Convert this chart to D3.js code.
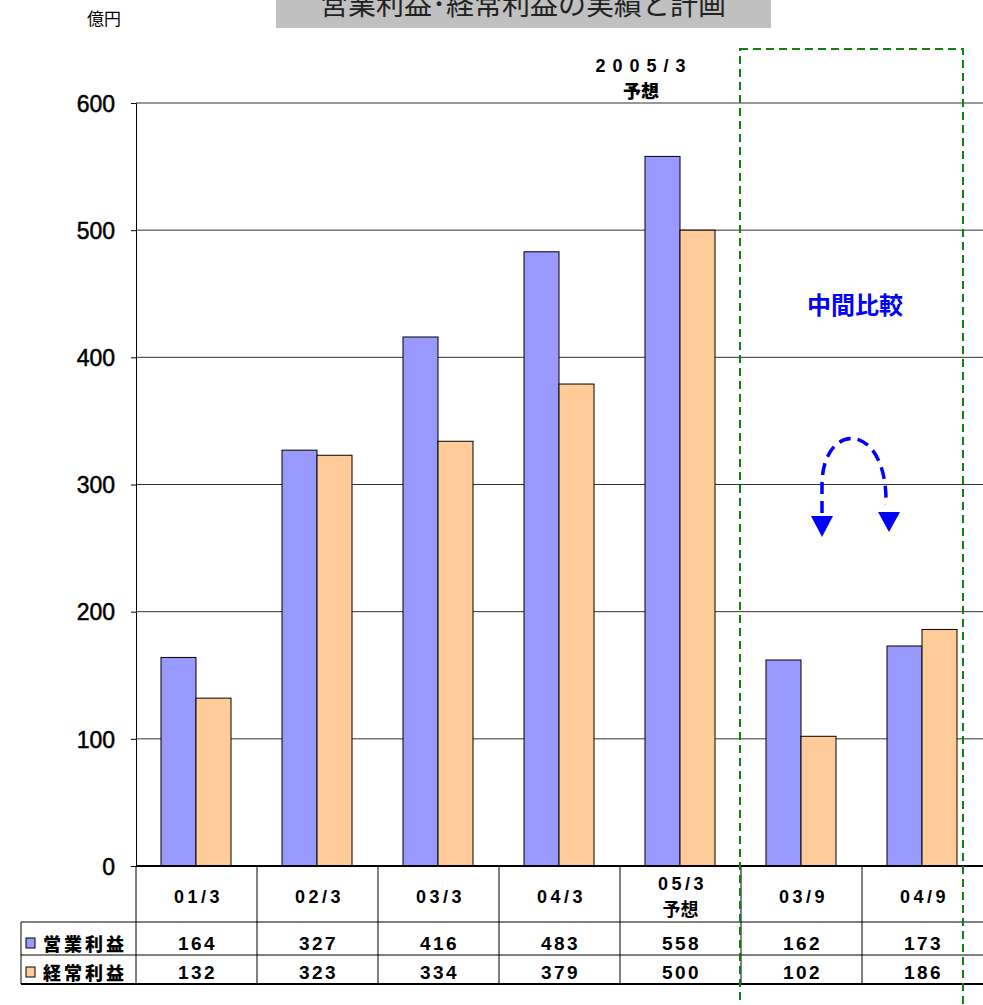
<!DOCTYPE html>
<html>
<head>
<meta charset="utf-8">
<script src="https://cdn.jsdelivr.net/npm/d3@7"></script>
<style>
  body { margin: 0; background: #fff; }
  svg { display: block; }
  .jp { font-family: "Noto Sans CJK JP", "Noto Sans", sans-serif; }
  .num { font-family: "Liberation Sans", Arial, sans-serif; }
</style>
</head>
<body>
<div id="chart"></div>
<script>
const categories = ["01/3", "02/3", "03/3", "04/3", "05/3", "03/9", "04/9"];
const categorySub = ["", "", "", "", "予想", "", ""];
const operating = [164, 327, 416, 483, 558, 162, 173];
const ordinary = [132, 323, 334, 379, 500, 102, 186];
const seriesNames = ["営業利益", "経常利益"];
const seriesColors = ["#9999FF", "#FFCC99"];
const yTicks = [0, 100, 200, 300, 400, 500, 600];

const W = 983, H = 1005;
const margin = { top: 103, left: 136, right: 0, bottom: 139 };
const plotBottom = H - margin.bottom; // 866

const svg = d3.select("#chart").append("svg")
  .attr("width", W).attr("height", H);

const x = d3.scaleBand().domain(categories).range([margin.left, W]).padding(0);
const sub = d3.scaleBand().domain([0, 1]).range([25, 95]).padding(0);
const y = d3.scaleLinear().domain([0, 600]).range([plotBottom, margin.top]);

// title box (cut at top like the original)
svg.append("rect").attr("x", 276).attr("y", -12).attr("width", 495).attr("height", 40)
  .attr("fill", "#C0C0C0");
svg.append("text").attr("class", "jp").attr("x", 523).attr("y", 15)
  .attr("text-anchor", "middle").attr("font-size", 28).attr("fill", "#222")
  .text("営業利益･経常利益の実績と計画");

svg.append("text").attr("class", "jp").attr("x", 104).attr("y", 25)
  .attr("text-anchor", "middle").attr("font-size", 17).attr("fill", "#000")
  .text("億円");

// gridlines
svg.append("g").selectAll("line").data(yTicks.filter(d => d > 0)).join("line")
  .attr("x1", margin.left).attr("x2", W)
  .attr("y1", d => y(d)).attr("y2", d => y(d))
  .attr("stroke", "#333").attr("stroke-width", 1);

// y axis
const yAxis = d3.axisLeft(y).tickValues(yTicks).tickSize(5).tickPadding(16);
const gy = svg.append("g").attr("transform", `translate(${margin.left},0)`).call(yAxis);
gy.select(".domain").attr("stroke", "#000");
gy.selectAll(".tick line").attr("stroke", "#000");
gy.selectAll(".tick text").attr("class", "num").attr("font-size", 23)
  .attr("fill", "#000").attr("stroke", "#000").attr("stroke-width", 0.5)
  .attr("dy", "0.36em");

// bars
const rows = categories.map((c, i) => ({ c, v: [operating[i], ordinary[i]] }));
const groups = svg.append("g").selectAll("g").data(rows).join("g")
  .attr("transform", d => `translate(${x(d.c)},0)`);
groups.selectAll("rect").data(d => d.v.map((v, k) => ({ v, k }))).join("rect")
  .attr("x", d => sub(d.k)).attr("width", sub.bandwidth())
  .attr("y", d => y(d.v)).attr("height", d => y(0) - y(d.v))
  .attr("fill", d => seriesColors[d.k]).attr("stroke", "#000").attr("stroke-width", 1);

// baseline
svg.append("line").attr("x1", margin.left).attr("x2", W)
  .attr("y1", y(0)).attr("y2", y(0)).attr("stroke", "#000").attr("stroke-width", 2);

// data table
const rowHeader = 922, row1 = 955, row2 = 984;
const t = svg.append("g");
t.selectAll("line.v").data(categories.slice(1)).join("line")
  .attr("x1", d => x(d)).attr("x2", d => x(d))
  .attr("y1", plotBottom).attr("y2", row2).attr("stroke", "#000");
t.append("line").attr("x1", margin.left).attr("x2", margin.left)
  .attr("y1", plotBottom).attr("y2", row2).attr("stroke", "#000");
[rowHeader, row1].forEach(yy => t.append("line").attr("x1", 21).attr("x2", W)
  .attr("y1", yy).attr("y2", yy).attr("stroke", "#000"));
t.append("line").attr("x1", 21).attr("x2", W).attr("y1", row2).attr("y2", row2)
  .attr("stroke", "#000").attr("stroke-width", 2);
t.append("line").attr("x1", 21).attr("x2", 21).attr("y1", rowHeader).attr("y2", row2)
  .attr("stroke", "#000");

const cx = d => x(d) + x.bandwidth() / 2;
t.selectAll("text.cat").data(categories).join("text")
  .attr("class", "num").attr("font-weight", "bold").attr("x", d => cx(d) + 2)
  .attr("y", (d, i) => categorySub[i] ? 890 : 903)
  .attr("text-anchor", "middle").attr("font-size", 18).attr("letter-spacing", 3.5)
  .text(d => d);
t.selectAll("text.sub").data(categories.filter((d, i) => categorySub[i])).join("text")
  .attr("class", "jp").attr("x", cx).attr("y", 916).attr("font-weight", "bold")
  .attr("text-anchor", "middle").attr("font-size", 18)
  .text(d => categorySub[categories.indexOf(d)]);

[operating, ordinary].forEach((vals, k) => {
  const yy = k === 0 ? 950 : 979;
  t.selectAll(null).data(vals).join("text")
    .attr("class", "num").attr("font-weight", "bold")
    .attr("x", (d, i) => cx(categories[i]) + 1)
    .attr("y", yy).attr("text-anchor", "middle").attr("font-size", 19)
    .attr("letter-spacing", 2.5).text(d => d);
  t.append("rect").attr("x", 26).attr("y", yy - 12).attr("width", 9).attr("height", 10)
    .attr("fill", seriesColors[k]).attr("stroke", "#000");
  t.append("text").attr("class", "jp").attr("x", 43).attr("y", yy + 1)
    .attr("font-weight", "900").attr("font-size", 18).attr("letter-spacing", 3)
    .text(seriesNames[k]);
});

// 2005/3 forecast label
svg.append("text").attr("class", "num").attr("font-weight", "bold")
  .attr("x", 644).attr("y", 72)
  .attr("text-anchor", "middle").attr("font-size", 18).attr("letter-spacing", 7)
  .text("2005/3");
svg.append("text").attr("class", "jp").attr("x", 641).attr("y", 98)
  .attr("text-anchor", "middle").attr("font-weight", "900").attr("font-size", 18)
  .text("予想");

// interim comparison frame
svg.append("rect").attr("x", 740).attr("y", 49).attr("width", 223).attr("height", 1000)
  .attr("fill", "none").attr("stroke", "#108010").attr("stroke-width", 2)
  .attr("stroke-dasharray", "8,5");
svg.append("text").attr("class", "jp").attr("x", 855).attr("y", 314)
  .attr("text-anchor", "middle").attr("font-weight", "bold").attr("font-size", 24)
  .attr("fill", "#0000FF").text("中間比較");

// dashed arc arrow
svg.append("path")
  .attr("d", "M822,513 L822,485 C822,420 888,420 886,505")
  .attr("fill", "none").attr("stroke", "#0000FF").attr("stroke-width", 3.5)
  .attr("stroke-dasharray", "12,7");
svg.append("path").attr("d", "M811,516 L833,516 L822,537 Z").attr("fill", "#0000FF");
svg.append("path").attr("d", "M878,512 L900,512 L889,532 Z").attr("fill", "#0000FF");
</script>
</body>
</html>
